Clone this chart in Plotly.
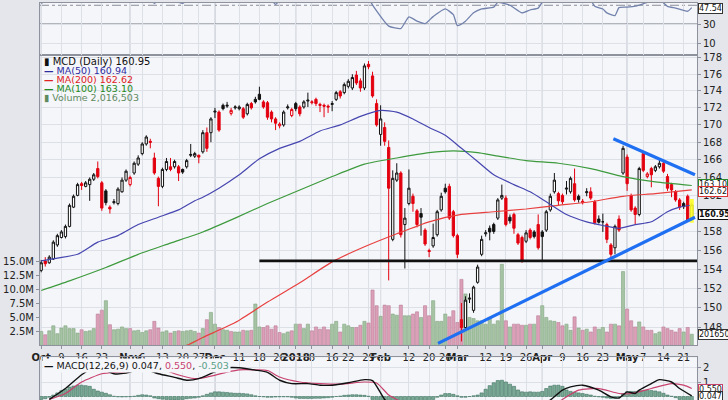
import math
import pandas as pd
import plotly.graph_objects as go

# ---------------- categories (trading days) ----------------
HOLIDAYS = ['2017-11-23', '2017-12-25', '2018-01-01', '2018-01-15', '2018-02-19', '2018-03-30']
trade_days = [d.strftime('%Y-%m-%d') for d in pd.bdate_range('2017-10-02', '2018-05-23')
              if d.strftime('%Y-%m-%d') not in HOLIDAYS]
N = len(trade_days)
x_idx = list(range(N))

tick_dates = ['2017-10-02', '2017-10-09', '2017-10-16', '2017-10-23', '2017-11-01', '2017-11-06',
              '2017-11-13', '2017-11-20', '2017-11-27', '2017-12-01', '2017-12-11', '2017-12-18',
              '2017-12-26', '2018-01-02', '2018-01-08', '2018-01-16', '2018-01-22', '2018-01-29',
              '2018-02-01', '2018-02-12', '2018-02-20', '2018-02-26', '2018-03-01', '2018-03-12',
              '2018-03-19', '2018-03-26', '2018-04-02', '2018-04-09', '2018-04-16', '2018-04-23',
              '2018-05-01', '2018-05-07', '2018-05-14', '2018-05-21']
tick_labels = ['<b>Oct</b>', '9', '16', '23', '<b>Nov</b>', '6', '13', '20', '27', '<b>Dec</b>', '11', '18',
               '26', '<b>2018</b>', '8', '16', '22', '29', '<b>Feb</b>', '12', '20', '26', '<b>Mar</b>', '12',
               '19', '26', '<b>Apr</b>', '9', '16', '23', '<b>May</b>', '7', '14', '21']
month_starts = ['2017-10-02', '2017-11-01', '2017-12-01', '2018-01-02', '2018-02-01', '2018-03-01',
                '2018-04-02', '2018-05-01']

# ---------------- price series (MCD daily) ----------------
opens = [153.9, 154.9, 154.7, 155.1, 156.6, 157.4, 157.5, 158.6, 160.7, 162.0,
         163.3, 163.0, 163.2, 163.8, 165.0, 163.4, 162.5, 160.7, 161.2, 161.1,
         162.4, 163.7, 163.2, 164.5, 165.5, 166.7, 167.8, 168.1, 166.2, 163.9,
         163.0, 164.9, 165.2, 165.2, 165.2, 164.9, 165.2, 166.5, 166.4, 166.5,
         166.9, 169.1, 169.1, 171.5, 171.5, 172.3, 172.2, 171.35, 172.0, 171.9,
         171.9, 171.3, 172.5, 173.0, 173.6, 172.7, 172.6, 171.5, 170.7, 169.9,
         170.0, 172.0, 171.1, 172.5, 172.1, 172.1, 172.8, 172.6, 173.0, 172.4,
         172.3, 172.2, 172.4, 173.0, 173.9, 173.8, 174.55, 174.35, 175.9, 175.2,
         174.35, 177.2, 175.8, 172.5, 168.9, 169.7, 167.4, 157.2, 163.7, 164.5,
         158.8, 161.1, 161.9, 160.3, 160.0, 158.2, 156.0, 156.5, 157.7, 160.4,
         162.8, 163.0, 160.2, 157.6, 148.8, 148.0, 150.9, 149.75, 152.65, 155.6,
         157.8, 158.4, 158.8, 159.5, 161.7, 161.7, 159.6, 159.9, 157.7, 157.4,
         157.0, 158.2, 158.0, 158.8, 158.0, 158.2, 160.4, 162.4, 162.2, 162.0,
         162.7, 162.4, 163.3, 161.9, 161.2, 162.3, 162.4, 161.3, 159.4, 159.1,
         158.8, 156.6, 156.3, 159.4, 164.5, 166.3, 162.0, 160.6, 159.9, 166.7,
         164.1, 165.0, 164.8, 165.2, 165.6, 164.1, 163.2, 162.4, 161.5, 161.1,
         161.9, 159.5]
highs = [155.0, 155.3, 155.5, 157.1, 157.8, 158.2, 158.8, 161.1, 162.1, 163.4,
         163.5, 163.6, 164.0, 164.5, 165.8, 163.6, 162.7, 160.9, 161.6, 162.9,
         164.0, 164.9, 164.2, 165.8, 166.5, 168.0, 168.8, 168.4, 166.8, 164.1,
         165.1, 166.2, 166.2, 166.0, 165.4, 165.0, 166.1, 167.8, 166.9, 166.6,
         169.4, 169.7, 170.9, 172.0, 171.7, 172.5, 172.7, 172.0, 172.3, 172.3,
         172.1, 172.6, 172.7, 173.3, 174.5, 172.9, 172.8, 171.7, 170.9, 170.3,
         171.7, 172.4, 172.0, 172.7, 172.3, 172.9, 173.8, 172.9, 173.2, 172.6,
         172.5, 172.4, 172.8, 174.0, 174.1, 175.0, 175.4, 176.0, 176.4, 175.5,
         177.3, 177.6, 176.3, 173.0, 172.3, 170.3, 168.2, 164.8, 165.6, 164.7,
         160.6, 164.9, 162.2, 160.5, 160.6, 158.4, 156.2, 158.9, 160.4, 162.3,
         163.3, 163.3, 160.4, 157.8, 150.5, 151.2, 151.5, 152.3, 154.5, 157.6,
         158.2, 158.7, 159.0, 161.7, 163.2, 162.0, 159.9, 160.1, 157.9, 157.6,
         158.2, 158.4, 158.2, 159.9, 158.2, 160.4, 162.2, 164.5, 162.4, 162.2,
         163.6, 164.1, 165.0, 162.1, 161.6, 162.8, 162.9, 161.5, 159.8, 160.0,
         159.0, 156.8, 158.8, 159.8, 167.6, 166.6, 162.2, 160.8, 165.2, 167.0,
         164.6, 165.2, 165.4, 166.0, 165.8, 164.4, 163.4, 162.6, 161.7, 161.3,
         162.1, 161.2]
lows = [153.7, 154.3, 154.6, 155.0, 156.4, 157.3, 157.3, 158.5, 160.6, 161.9,
        162.6, 162.9, 161.4, 163.6, 163.9, 160.3, 160.9, 160.0, 161.0, 160.9,
        162.3, 163.5, 163.0, 164.3, 165.3, 166.5, 167.6, 167.3, 164.3, 160.8,
        162.8, 164.7, 164.7, 165.0, 163.6, 164.4, 165.0, 166.3, 166.2, 165.6,
        166.7, 166.9, 168.0, 170.8, 169.2, 171.7, 172.0, 171.1, 171.8, 171.7,
        170.7, 171.1, 171.8, 172.5, 172.9, 171.9, 170.6, 170.3, 169.4, 169.6,
        169.8, 171.8, 170.9, 171.6, 171.0, 171.9, 172.1, 172.4, 172.2, 171.5,
        170.9, 171.4, 171.6, 172.8, 173.1, 173.6, 174.3, 174.1, 174.7, 173.9,
        174.1, 176.6, 173.2, 169.8, 167.6, 167.6, 152.85, 157.0, 163.5, 157.4,
        154.1, 160.9, 160.2, 158.5, 157.6, 156.5, 155.3, 156.3, 157.5, 160.2,
        162.2, 159.3, 157.4, 155.2, 146.6, 147.9, 150.5, 149.5, 152.5, 155.4,
        157.5, 157.1, 157.8, 159.3, 161.5, 158.6, 158.9, 157.8, 156.6, 154.7,
        156.8, 157.2, 157.3, 156.1, 155.0, 158.0, 160.2, 162.2, 160.9, 161.0,
        162.1, 162.2, 161.3, 161.2, 161.0, 161.9, 161.5, 158.8, 158.9, 158.0,
        156.8, 155.2, 155.6, 158.0, 164.3, 162.5, 160.2, 158.8, 159.7, 164.6,
        163.9, 162.9, 164.6, 165.0, 164.5, 162.5, 161.8, 161.3, 160.4, 160.5,
        159.1, 159.3]
closes = [154.7, 154.6, 155.3, 156.9, 157.6, 158.0, 158.6, 160.9, 161.9, 163.2,
          163.1, 163.4, 163.8, 164.3, 164.1, 160.6, 161.2, 160.5, 161.3, 162.7,
          163.7, 164.7, 164.0, 165.6, 166.2, 167.8, 168.6, 168.0, 164.5, 163.0,
          164.9, 165.8, 164.9, 165.8, 164.5, 164.6, 165.9, 166.6, 166.7, 166.3,
          169.1, 167.3, 170.7, 171.6, 169.4, 171.9, 172.3, 171.7, 172.1, 172.1,
          170.9, 172.4, 172.0, 172.7, 173.0, 172.1, 170.9, 170.7, 170.2, 170.1,
          171.5, 172.1, 171.8, 171.9, 171.3, 172.7, 172.9, 172.7, 172.5, 172.3,
          172.2, 172.1, 172.5, 173.8, 173.4, 174.75, 175.15, 175.6, 174.95, 174.35,
          177.0, 176.9, 173.4, 170.0, 170.7, 168.1, 162.8, 163.9, 164.5, 157.7,
          159.5, 162.8, 161.1, 158.8, 159.6, 156.7, 155.9, 157.4, 160.2, 161.9,
          162.4, 159.5, 157.6, 155.6, 148.0, 150.8, 151.0, 152.15, 154.25, 157.2,
          157.9, 158.0, 158.05, 161.5, 162.0, 158.8, 159.2, 158.4, 156.8, 154.9,
          157.9, 157.4, 157.5, 156.3, 157.5, 160.2, 161.9, 163.7, 161.4, 161.3,
          162.8, 163.9, 161.5, 161.55, 161.35, 162.4, 161.7, 159.0, 159.05, 159.1,
          157.2, 155.6, 158.6, 158.2, 167.3, 163.3, 160.4, 159.9, 165.0, 164.8,
          164.4, 164.3, 165.2, 165.6, 164.7, 162.8, 162.6, 161.5, 160.7, 160.75,
          159.3, 160.95]
volume_m = [2.5, 1.9, 2.6, 3.5, 2.1, 3.1, 3.5, 3.0, 3.0, 2.2, 2.8, 2.5, 2.6, 3.0, 5.6, 6.3, 8.0, 3.7, 2.8,
            2.9, 3.3, 3.0, 3.0, 2.6, 2.7, 2.3, 2.6, 2.8, 4.3, 3.1, 2.4, 2.6, 2.2, 2.5, 2.6, 2.5, 2.6, 2.7, 2.5, 2.2, 3.0,
            4.6, 5.9, 3.8, 3.2, 2.8, 2.7, 2.5, 2.4, 2.4, 2.7, 2.6, 2.7, 7.4, 3.3, 3.2, 3.5, 2.9, 3.5, 2.3, 2.1,
            2.4, 2.6, 3.8, 3.8, 3.0, 3.8, 2.6, 3.3, 2.9, 3.3, 2.8, 3.8, 4.3, 2.4, 3.8, 3.5, 3.2, 3.2, 3.6, 4.3,
            4.0, 9.9, 7.1, 5.2, 7.2, 7.1, 5.6, 5.4, 7.2, 5.3, 5.3, 5.6, 6.0, 5.0, 7.1, 5.3, 8.0, 4.3, 4.3, 5.6,
            5.1, 6.2, 4.1, 11.8, 9.2, 5.0, 4.8, 4.4, 4.4, 3.8, 5.0, 3.8, 4.4, 14.5, 4.4, 3.3, 3.8, 3.8, 3.6, 3.6,
            3.8, 3.8, 5.3, 7.1, 5.0, 4.4, 4.3, 4.1, 3.5, 3.8, 2.7, 5.1, 3.1, 2.7, 2.9, 2.4, 3.3, 2.9, 3.2, 2.4,
            3.8, 3.8, 3.5, 13.2, 6.5, 4.4, 3.3, 4.2, 3.3, 2.7, 2.7, 2.1, 2.4, 3.3, 3.0, 2.7, 2.4, 3.0, 2.4, 3.2,
            2.0]

# moving averages, read at sample days
ma50_days = [0, 4, 9, 14, 19, 24, 29, 34, 38, 40, 44, 49, 54, 59, 64, 69, 74, 79, 84, 88, 92, 96, 100,
             104, 108, 112, 117, 121, 125, 130, 135, 139, 143, 147, 151, 155, 158, 161]
ma50_vals = [154.9, 155.2, 155.6, 156.9, 157.6, 158.8, 159.6, 160.4, 161.4, 161.8, 162.8, 164.3, 166.1,
             167.3, 168.1, 169.3, 170.0, 171.0, 171.7, 171.5, 170.7, 169.7, 168.8, 167.3, 165.8, 164.3,
             163.2, 162.4, 161.3, 159.9, 159.1, 158.7, 158.4, 158.8, 159.1, 160.2, 160.7, 160.94]
ma100_days = [0, 7, 16, 24, 32, 40, 48, 56, 64, 72, 80, 88, 96, 102, 108, 112, 120, 128, 136, 144, 152, 161]
ma100_vals = [151.8, 152.8, 154.2, 155.6, 156.8, 158.0, 159.5, 161.1, 162.6, 164.1, 165.5, 166.2, 166.8,
              167.0, 166.8, 166.5, 165.9, 165.6, 165.0, 164.1, 163.5, 163.10]
ma200_days = [0, 12, 24, 36, 40, 48, 56, 64, 72, 80, 88, 96, 104, 112, 120, 128, 136, 144, 152, 161]
ma200_vals = [141.5, 143.0, 144.6, 146.2, 147.0, 148.5, 150.6, 152.6, 154.8, 156.4, 157.8, 159.1, 159.9,
              160.2, 160.5, 160.9, 161.3, 161.9, 162.2, 162.62]

# RSI(14), read at sample days
rsi_days = [0, 2, 5, 10, 15, 20, 25, 28, 30, 33, 35, 38, 42, 46, 50, 55, 58, 60, 65, 70, 75, 80, 81, 83,
            86, 89, 91, 93, 95, 97, 100, 102, 103, 105, 107, 109, 112, 113, 116, 119, 121, 123, 124, 128,
            132, 136, 137, 139, 140, 142, 143, 145, 147, 150, 153, 155, 157, 160, 161]
rsi_vals = [52, 57, 66, 72, 60, 68, 75, 52, 60, 55, 52, 62, 70, 68, 63, 66, 51, 60, 64, 62, 70, 74, 58, 44,
            28, 25.4, 37.7, 33.2, 30.6, 38, 46.1, 40, 28.5, 33.2, 42, 46.1, 48, 53, 50, 41.9, 45, 47, 53, 58,
            56, 55, 48.9, 46, 41.9, 39.1, 47.5, 48, 49, 53, 56, 48.9, 47, 43.7, 47.54]

# MACD(12,26,9)
macd_days = [2, 6, 10, 12, 15, 18, 21, 25, 29, 33, 36, 39, 43, 46, 49, 53, 56, 59, 62, 66, 69, 72, 76, 80,
             82, 85, 88, 92, 96, 100, 104, 108, 112, 116, 120, 124, 126, 129, 131, 134, 138, 141, 143, 145,
             147, 148, 151, 153, 156, 158, 161]
macd_vals = [-0.2, 0.55, 1.5, 1.84, 1.9, 1.57, 1.61, 1.91, 1.57, 1.32, 1.12, 1.23, 1.7, 1.98, 1.98, 1.82,
             1.66, 1.12, 0.89, 0.89, 0.78, 0.78, 0.95, 1.16, 1.1, -0.2, -0.9, -1.5, -1.8, -1.6, -2.0, -1.9,
             -1.0, -0.6, -0.9, -0.5, -0.24, 0.44, 0.66, 0.78, 0.44, -0.02, -0.1, 0.32, 0.21, 0.44, 0.89, 1.16,
             1.0, 0.55, 0.047]
signal_days = [2, 6, 10, 15, 19, 23, 27, 29, 33, 38, 41, 46, 49, 53, 56, 59, 64, 69, 74, 80, 83, 86, 88, 92,
               96, 100, 105, 110, 115, 120, 125, 129, 133, 138, 143, 146, 151, 156, 159, 161]
signal_vals = [-0.2, 0.21, 1.0, 1.57, 1.68, 1.75, 2.02, 1.98, 1.57, 1.23, 1.34, 1.68, 1.84, 1.84, 1.79, 1.34,
               1.0, 0.89, 0.85, 1.0, 0.93, 0.1, -0.2, -0.8, -1.3, -1.6, -1.8, -1.8, -1.5, -1.2, -0.9, -0.2,
               0.44, 0.55, 0.21, 0.21, 0.55, 0.89, 0.78, 0.55]
hist_vals = [-0.2, -0.15, -0.05, 0.1, 0.25, 0.4, 0.5, 0.65, 0.72, 0.78,
             0.78, 0.75, 0.7, 0.5, 0.38, 0.3, 0.22, 0.12, 0.02, -0.02,
             -0.03, -0.02, -0.01, 0.02, 0.08, 0.12, 0.1, 0.05, -0.1, -0.15,
             -0.18, -0.2, -0.22, -0.24, -0.22, -0.2, -0.15, -0.12, -0.1, -0.05,
             0.05, 0.15, 0.25, 0.32, 0.32, 0.3, 0.28, 0.25, 0.22, 0.22,
             0.2, 0.18, 0.12, 0.05, 0.0, -0.02, -0.05, -0.05, -0.03, -0.02,
             -0.02, -0.02, -0.05, -0.1, -0.13, -0.13, -0.14, -0.13, -0.12, -0.12,
             -0.1, -0.08, -0.05, 0.0, 0.03, 0.08, 0.1, 0.12, 0.12, 0.1,
             0.08, 0.02, -0.2, -0.4, -0.6, -0.8, -1.1, -1.0, -0.9, -1.0,
             -0.9, -0.7, -0.6, -0.5, -0.4, -0.35, -0.3, -0.2, -0.05, 0.1,
             0.2, 0.2, 0.15, 0.05, -0.05, -0.05, 0.0, 0.05, 0.1, 0.25,
             0.5, 0.75, 0.95, 1.1, 1.12, 1.0, 0.85, 0.7, 0.45, 0.32,
             0.3, 0.32, 0.3, 0.3, 0.35, 0.55, 0.72, 0.78, 0.78, 0.7,
             0.45, 0.35, 0.3, 0.25, 0.2, 0.15, 0.1, 0.02, -0.02, -0.05,
             -0.1, -0.13, -0.12, -0.05, 0.2, 0.32, 0.35, 0.35, 0.4, 0.42,
             0.44, 0.42, 0.38, 0.32, 0.22, 0.1, 0.02, -0.08, -0.2, -0.32,
             -0.42, -0.503]

# chartist annotations (trend lines) in (day index, price)
upper_trend_days = [141.6, 161.8]
upper_trend_prices = [168.4, 164.3]
lower_trend_days = [98.2, 161.8]
lower_trend_prices = [146.4, 159.6]
support_days = [54.0, 162.3]
support_prices = [154.9, 154.9]

assert all(len(a) == N for a in (opens, highs, lows, closes, volume_m, hist_vals)), N

# ---------------- figure ----------------
up = [True] + [closes[i] >= closes[i - 1] for i in range(1, N)]
PANEL = '#f5f6fa'
GRID = '#dde0e7'
FRAME = '#8d929d'
FONT = 'DejaVu Sans'

fig = go.Figure()

# volume (base axis so that candles draw on top)
fig.add_trace(go.Bar(
    x=x_idx, y=volume_m, width=0.78,
    marker=dict(color=['#a6c4a4' if u else '#dba0b7' for u in up],
                line=dict(color=['#82a580' if u else '#bb7e97' for u in up], width=0.6)),
    xaxis='x', yaxis='y', hoverinfo='skip'))

# moving averages
for days_, vals_, col in ((ma200_days, ma200_vals, '#e8403f'),
                          (ma100_days, ma100_vals, '#3d9a3d'),
                          (ma50_days, ma50_vals, '#4646b0')):
    fig.add_trace(go.Scatter(x=days_, y=vals_, mode='lines', line=dict(color=col, width=1.2, shape='spline', smoothing=0.6),
                             xaxis='x', yaxis='y2', hoverinfo='skip'))

# yellow highlight of last candle
last = N - 1
fig.add_trace(go.Scatter(x=[last - 0.5, last + 0.5, last + 0.5, last - 0.5, last - 0.5],
                         y=[lows[last] - 0.3, lows[last] - 0.3, highs[last] + 0.4, highs[last] + 0.4, lows[last] - 0.3],
                         mode='lines', fill='toself', fillcolor='rgba(255,255,40,0.9)', line=dict(width=0),
                         xaxis='x', yaxis='y2', hoverinfo='skip'))

# candles: black = close >= previous close, red = lower; hollow = close > open
for grp, col in ((True, '#111111'), (False, '#e3000f')):
    sel = [i for i in x_idx if up[i] == grp]
    fig.add_trace(go.Candlestick(
        x=sel, open=[opens[i] for i in sel], high=[highs[i] for i in sel],
        low=[lows[i] for i in sel], close=[closes[i] for i in sel],
        increasing=dict(line=dict(color=col, width=1), fillcolor='#ffffff'),
        decreasing=dict(line=dict(color=col, width=1), fillcolor=col),
        whiskerwidth=0, xaxis='x', yaxis='y2', hoverinfo='skip'))

# trend lines
fig.add_trace(go.Scatter(x=support_days, y=support_prices, mode='lines', line=dict(color='#111111', width=2.6),
                         xaxis='x', yaxis='y2', hoverinfo='skip'))
for dd, pp in ((upper_trend_days, upper_trend_prices), (lower_trend_days, lower_trend_prices)):
    fig.add_trace(go.Scatter(x=dd, y=pp, mode='lines', line=dict(color='#1f6ff2', width=3.2),
                             xaxis='x', yaxis='y2', hoverinfo='skip'))

# RSI
fig.add_trace(go.Scatter(x=rsi_days, y=rsi_vals, mode='lines',
                         line=dict(color='#7282ad', width=1.3, shape='spline', smoothing=0.5),
                         xaxis='x2', yaxis='y3', hoverinfo='skip'))

# MACD
fig.add_trace(go.Bar(x=x_idx, y=hist_vals, width=0.8,
                     marker=dict(color='#79a894', line=dict(color='#3f7362', width=0.6)),
                     xaxis='x3', yaxis='y4', hoverinfo='skip'))
fig.add_trace(go.Scatter(x=signal_days, y=signal_vals, mode='lines',
                         line=dict(color='#c8426e', width=1.2, shape='spline', smoothing=0.6),
                         xaxis='x3', yaxis='y4', hoverinfo='skip'))
fig.add_trace(go.Scatter(x=macd_days, y=macd_vals, mode='lines',
                         line=dict(color='#111111', width=1.4, shape='spline', smoothing=0.6),
                         xaxis='x3', yaxis='y4', hoverinfo='skip'))

tickvals = [trade_days.index(d) for d in tick_dates]
month_idx = [trade_days.index(d) for d in month_starts]

D_RSI = [0.868, 1.0]
D_PRICE = [0.1375, 0.868]
D_MACD = [0.0, 0.1075]

xcommon = dict(range=[-0.3, N + 0.3], tickvals=tickvals, showgrid=True, gridcolor=GRID, gridwidth=1,
               showline=True, mirror=True, linecolor=FRAME, linewidth=1, zeroline=False)

shapes = []
for m in month_idx:
    for dom in (D_RSI, D_PRICE, D_MACD):
        shapes.append(dict(type='line', xref='x', yref='paper', x0=m, x1=m, y0=dom[0], y1=dom[1],
                           line=dict(color='#b3b7c1', width=1), layer='below'))
shapes.append(dict(type='line', xref='paper', yref='y3', x0=0, x1=1, y0=30, y1=30,
                   line=dict(color='#70747e', width=1.2), layer='below'))
shapes.append(dict(type='line', xref='paper', yref='y3', x0=0, x1=1, y0=50, y1=50,
                   line=dict(color='#8a8e98', width=1, dash='dashdot'), layer='below'))

def py(px):
    return (400 - px) / 400.0

ann = []
leg = [("<b>▮</b> MCD (Daily) 160.95", '#111111', 59, 10),
       ("<b>—</b> MA(50) 160.94", '#2c2ca0', 68.5, 9.5),
       ("<b>—</b> MA(200) 162.62", '#e02222', 77.5, 9.5),
       ("<b>—</b> MA(100) 163.10", '#218a21', 86.3, 9.5),
       ("<b>▮</b> Volume 2,016,503", '#5f8a5f', 95, 9.5)]
for txt, col, ypx, fs in leg:
    ann.append(dict(xref='paper', yref='paper', x=0.003, y=py(ypx), xanchor='left', yanchor='middle',
                    text=txt, showarrow=False, font=dict(family=FONT, size=fs, color=col)))
ann.append(dict(xref='paper', yref='paper', x=0.003, y=py(365), xanchor='left', yanchor='middle',
                text="<b>—</b> MACD(12,26,9) 0.047, <span style='color:#c8426e'>0.550</span>, "
                     "<span style='color:#5aa088'>-0.503</span>",
                showarrow=False, bgcolor=PANEL, font=dict(family=FONT, size=9.5, color='#111111')))

boxes = [("47.54", '#333333', 6, False),
         ("163.10", '#2a8a2a', 182.5, False),
         ("162.62", '#dd3333', 190, False),
         ("160.95", '#111111', 213.5, True),
         ("2016503", '#333333', 334, False),
         ("0.550", '#c8426e', 389.5, False),
         ("0.047", '#333333', 396, False)]
for txt, col, ypx, bold in boxes:
    ann.append(dict(xref='paper', yref='paper', x=1.002, y=py(ypx), xanchor='left', yanchor='middle',
                    text=('<b>%s</b>' % txt) if bold else txt, showarrow=False,
                    bgcolor='#ffffff', bordercolor=col, borderwidth=1, borderpad=0,
                    font=dict(family=FONT, size=8, color='#111111')))

price_ticks = list(range(148, 179, 2))

fig.update_layout(
    width=728, height=400, margin=dict(l=40, r=31, t=0, b=0),
    paper_bgcolor='#e4e6eb', plot_bgcolor=PANEL, showlegend=False,
    font=dict(family=FONT, size=10, color='#222222'),
    bargap=0.1, boxgap=0.2,
    xaxis=dict(**xcommon, anchor='y', ticktext=tick_labels, ticks='outside', ticklen=3, tickcolor=FRAME,
               tickangle=0, tickfont=dict(size=10, color='#222222'), rangeslider=dict(visible=False)),
    xaxis2=dict(**xcommon, anchor='y3', matches='x', showticklabels=False, rangeslider=dict(visible=False)),
    xaxis3=dict(**xcommon, anchor='y4', matches='x', showticklabels=False, rangeslider=dict(visible=False)),
    yaxis=dict(domain=D_PRICE, range=[0, 51.83], side='left', anchor='x', showgrid=False, zeroline=False,
               tickvals=[2.5, 5.0, 7.5, 10.0, 12.5, 15.0],
               ticktext=['2.5M', '5.0M', '7.5M', '10.0M', '12.5M', '15.0M'],
               ticks='outside', ticklen=3, tickcolor=FRAME, tickfont=dict(size=10),
               showline=True, mirror=True, linecolor=FRAME),
    yaxis2=dict(overlaying='y', side='right', anchor='x', type='log',
                range=[math.log10(146.2), math.log10(178.28)], tickvals=price_ticks,
                ticktext=[str(v) for v in price_ticks], showgrid=True, gridcolor=GRID, zeroline=False,
                ticks='outside', ticklen=3, tickcolor=FRAME, tickfont=dict(size=10)),
    yaxis3=dict(domain=D_RSI, range=[-3, 52.4], side='right', anchor='x2', tickvals=[10, 30],
                showgrid=True, gridcolor=GRID, zeroline=False, ticks='outside', ticklen=3, tickcolor=FRAME,
                showline=True, mirror=True, linecolor=FRAME, tickfont=dict(size=10)),
    yaxis4=dict(domain=D_MACD, range=[-0.24, 2.7], side='right', anchor='x3', tickvals=[1, 2],
                showgrid=True, gridcolor=GRID, zeroline=False, ticks='outside', ticklen=3, tickcolor=FRAME,
                showline=True, mirror=True, linecolor=FRAME, tickfont=dict(size=10)),
    shapes=shapes, annotations=ann,
)

fig.write_html("out.html", config={'displayModeBar': False},
               post_script="document.body.style.margin='0';document.body.style.padding='0';"
                           "document.body.style.background='#e4e6eb';")
